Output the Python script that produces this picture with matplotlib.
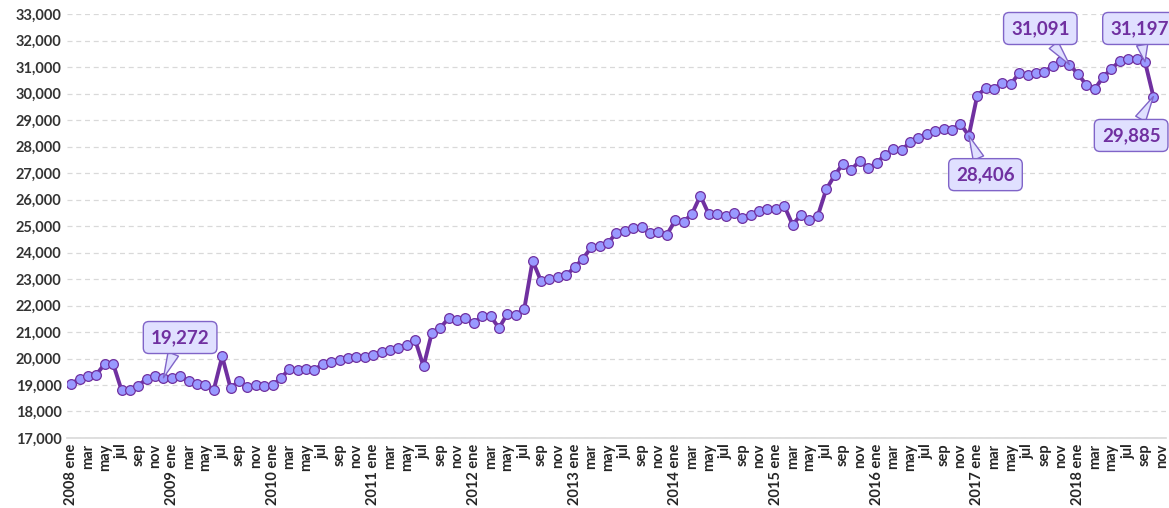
import matplotlib.pyplot as plt
import numpy as np

meses = ["ene", "feb", "mar", "abr", "may", "jun", "jul", "ago", "sep", "oct", "nov", "dic"]
years = list(range(2008, 2019))

v2008 = [19040, 19240, 19340, 19390, 19800, 19800, 18810, 18820, 18980, 19230, 19350, 19272]
v2009 = [19262, 19330, 19150, 19050, 18990, 18820, 20080, 18880, 19150, 18930, 18990, 18960]
v2010 = [18990, 19250, 19610, 19560, 19620, 19570, 19800, 19880, 19960, 20020, 20050, 20070]
v2011 = [20120, 20260, 20310, 20410, 20510, 20700, 19700, 20980, 21160, 21520, 21460, 21520]
v2012 = [21330, 21610, 21590, 21150, 21690, 21660, 21850, 23690, 22930, 22990, 23070, 23140]
v2013 = [23440, 23760, 24200, 24260, 24360, 24750, 24830, 24930, 24980, 24720, 24760, 24670]
v2014 = [25210, 25150, 25460, 26140, 25450, 25460, 25360, 25500, 25320, 25410, 25550, 25650]
v2015 = [25650, 25760, 25045, 25430, 25210, 25385, 26380, 26910, 27350, 27125, 27465, 27175]
v2016 = [27380, 27680, 27905, 27855, 28170, 28310, 28460, 28600, 28660, 28640, 28860, 28406]
v2017 = [29920, 30200, 30180, 30410, 30350, 30770, 30690, 30790, 30820, 31040, 31210, 31091]
v2018 = [30740, 30330, 30160, 30620, 30930, 31230, 31320, 31310, 31197, 29885, np.nan]

# labels shown: (year index, month index, text)
destacados = [(0, 11, "19,272"), (8, 11, "28,406"), (9, 11, "31,091"), (10, 8, "31,197"), (10, 9, "29,885")]
offsets = {"19,272": (12, 29), "28,406": (12, -28), "31,091": (-21, 26), "31,197": (-4, 24), "29,885": (-16, -28)}

valores = v2008 + v2009 + v2010 + v2011 + v2012 + v2013 + v2014 + v2015 + v2016 + v2017 + v2018
x = np.arange(len(valores))

etiquetas = []
for y in years:
    for m in range(12):
        if y == 2018 and m == 11:
            break
        if m == 0:
            etiquetas.append(str(y) + " ene")
        elif m % 2 == 0:
            etiquetas.append(meses[m] if meses[m] not in ("abr", "ago", "dic") else "")
        else:
            etiquetas.append("")

plt.rcParams['font.family'] = ['Lato', 'DejaVu Sans']
fig = plt.figure(figsize=(11.69, 5.08), dpi=100)
ax = fig.add_axes([0.0573, 0.1378, 0.9401, 0.8346])

ax.plot(x, valores, color="#7030A0", linewidth=2.8, marker="o", markersize=7,
        markerfacecolor="#9999FF", markeredgecolor="#7030A0", markeredgewidth=0.9, zorder=3)

ax.set_ylim(17000, 33000)
ax.set_xlim(-0.5, len(valores) - 0.5)
ax.set_yticks(range(17000, 33001, 1000))
ax.set_yticklabels([f"{v:,}" for v in range(17000, 33001, 1000)], fontsize=10.5,
                   fontweight="bold", color="#333333")
pos = [i for i, e in enumerate(etiquetas) if e != ""]
ax.set_xticks(pos)
ax.set_xticklabels([etiquetas[i] for i in pos], rotation=90, fontsize=10.5,
                   fontweight="bold", color="#262626")
ax.tick_params(length=0, pad=4)
ax.grid(axis="y", color="#D9D9D9", linestyle=(0, (4, 3)), linewidth=0.9)
ax.set_axisbelow(True)
for s in ["top", "right", "left"]:
    ax.spines[s].set_visible(False)
ax.spines["bottom"].set_color("#D9D9D9")
ax.spines["bottom"].set_linewidth(1.2)

for yi, mi, txt in destacados:
    i = yi * 12 + mi
    ax.annotate(txt, xy=(x[i], valores[i]), xytext=offsets[txt], textcoords="offset points",
                ha="center", va="center", fontsize=13.5, fontweight="bold", color="#7030A0",
                bbox=dict(boxstyle="round,pad=0.4,rounding_size=0.3", fc="#E0E0FF", ec="#8064C8", lw=1),
                arrowprops=dict(arrowstyle="wedge,tail_width=0.6", fc="#E0E0FF", ec="#8064C8", lw=1,
                                shrinkA=0, shrinkB=0),
                annotation_clip=False, zorder=5)

plt.savefig("out.png", dpi=100)
